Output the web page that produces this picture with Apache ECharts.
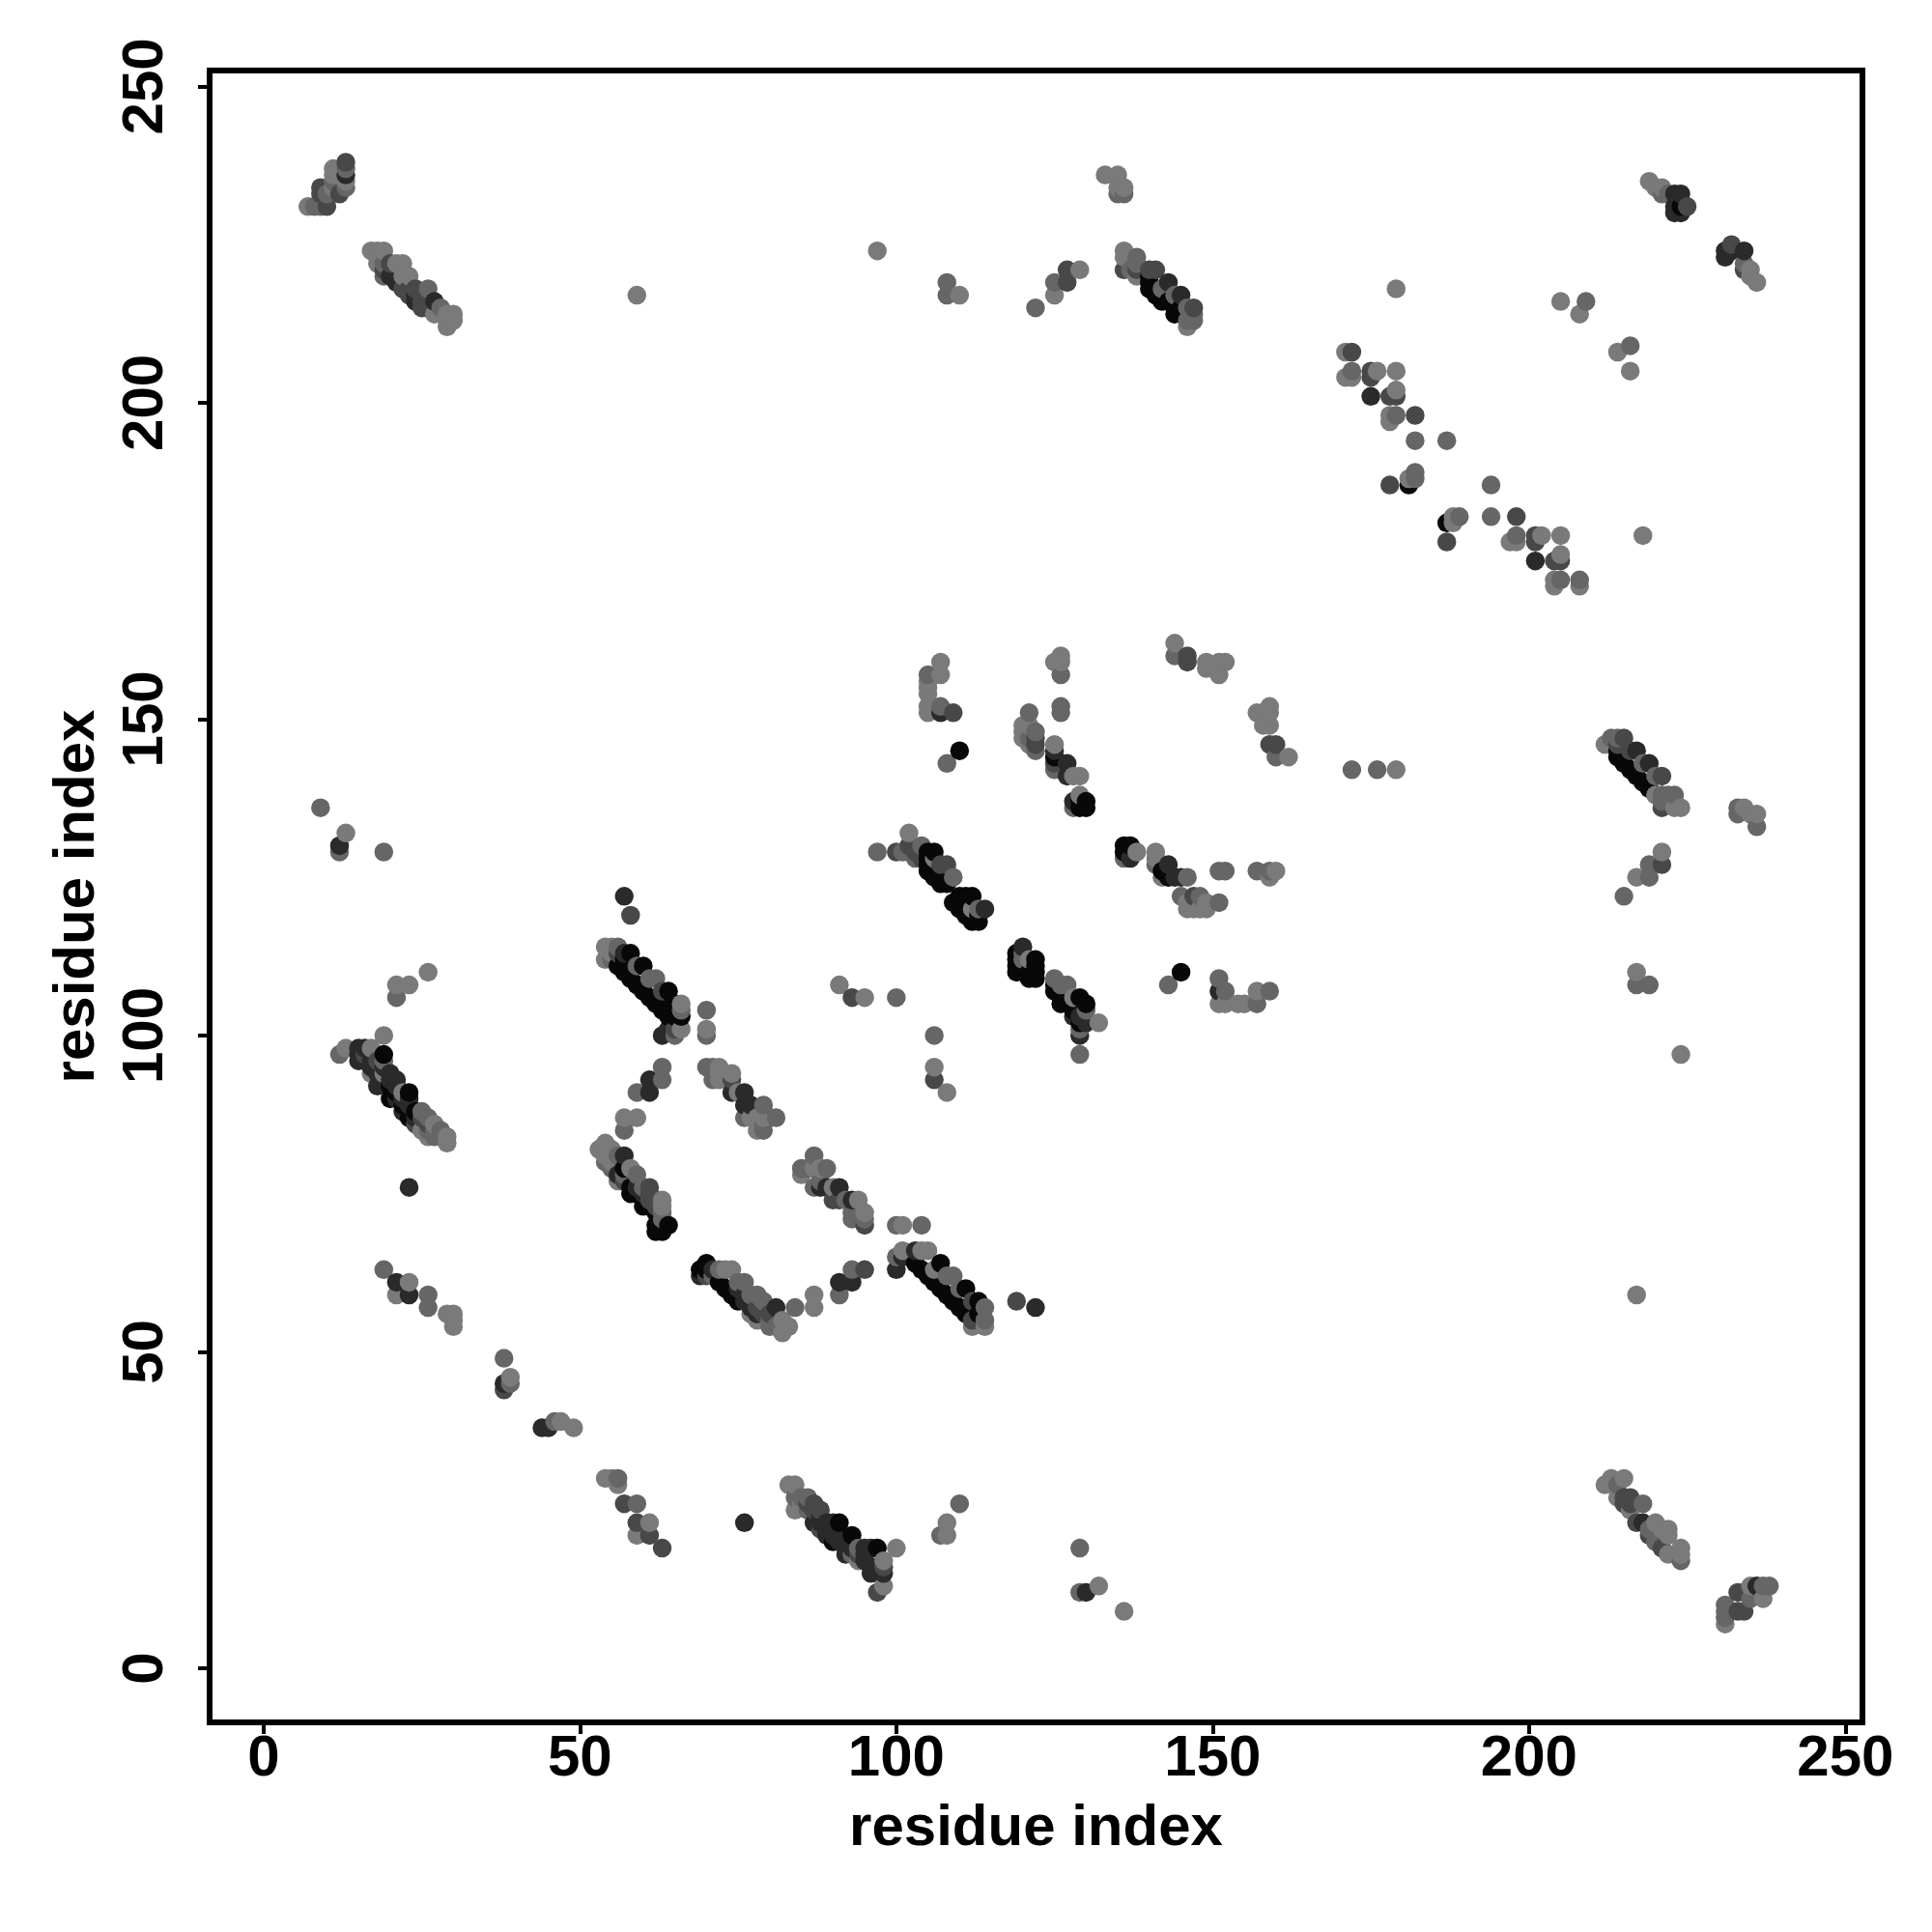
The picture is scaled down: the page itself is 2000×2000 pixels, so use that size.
<!DOCTYPE html>
<html>
<head>
<meta charset="utf-8">
<script src="https://cdn.jsdelivr.net/npm/echarts@6/dist/echarts.min.js"></script>
<style>html,body{margin:0;padding:0;background:#fff}#c{width:2000px;height:2000px}</style>
</head>
<body>
<div id="c"></div>
<script>
// grey shades of the contact dots
const L=122, M=102, D=72, K=42, B=8;
const tickValues=[0,50,100,150,200,250];
const axisTitle='residue index';
// [residue x, residue y, grey]
const topLeftA=[[7,231,L],[8,231,M],[9,231,M],[10,231,D],[9,233,D],[9,234,D],[10,233,M],[11,237,L],[11,236,L],[11,235,M],[11,234,L],[12,233,D],[13,238,D],[13,237,M],[13,236,K],[13,235,L],[13,234,M]];
const topLeftB=[[17,224,L],[18,224,L],[19,224,L],[18,222,L],[19,222,M],[19,221,D],[19,220,M],[20,222,D],[21,222,L],[22,222,L],[20,220,K],[21,219,K],[22,220,L],[23,220,L],[22,218,D],[23,218,D],[23,217,D],[24,218,D],[24,217,K],[24,216,K],[25,217,D],[25,216,D],[25,215,D],[26,218,M],[26,216,D],[27,216,K],[26,215,D],[27,214,L],[29,214,L],[30,214,L],[29,213,L],[30,213,L],[29,212,L],[28,215,M]];
const topIso=[[59,217,L],[97,224,L],[108,219,M],[108,217,M],[110,217,L],[122,215,M],[125,217,L],[125,219,M],[127,219,D],[127,221,D],[129,221,L]];
const topMid=[[133,236,L],[135,236,L],[136,234,L],[136,233,M],[135,233,M],[135,234,L],[136,224,L],[136,223,L],[136,221,D],[137,221,M],[138,223,M],[138,222,M],[138,220,L],[138,221,D],[140,221,D],[141,221,D],[140,220,B],[140,219,B],[140,218,B],[141,217,B],[141,218,B],[142,216,B],[142,218,M],[143,219,K],[143,216,B],[144,217,M],[145,217,K],[144,215,B],[144,214,B],[145,215,B],[146,215,M],[147,215,D],[147,214,M],[146,212,L],[146,213,M],[147,213,M]];
const topRight=[[219,235,L],[220,234,L],[221,234,L],[221,233,M],[222,233,M],[223,233,K],[224,233,K],[223,230,K],[224,230,K],[223,231,K],[224,231,B],[225,231,D],[231,224,K],[231,223,K],[232,225,D],[232,224,K],[234,224,K],[234,221,D],[234,222,M],[235,221,L],[235,220,L],[236,219,L]];
const upperRightA=[[179,218,L],[205,216,L],[209,216,M],[208,214,L],[214,208,L],[216,209,M],[216,205,L]];
const upperRightB=[[171,208,L],[172,208,D],[171,204,L],[172,205,M],[172,204,L],[175,204,D],[175,205,D],[176,205,L],[179,205,L],[175,201,K],[178,201,D],[179,201,D],[179,202,L],[178,198,L],[178,197,L],[179,198,M],[182,198,D],[182,194,M],[187,194,M],[178,187,D],[181,187,B],[181,188,L],[182,189,M],[182,188,M],[194,187,M],[187,181,B],[187,178,D],[188,181,L],[188,182,L],[189,182,M],[194,182,M],[198,182,D],[197,178,L],[198,179,M],[198,178,L],[201,179,D],[201,178,D],[202,179,L],[205,179,L],[201,175,K],[204,175,D],[205,175,D],[205,176,L],[204,172,L],[204,171,L],[205,172,M],[208,172,M],[208,171,L],[218,179,L]];
const rightBand=[[172,142,M],[176,142,M],[179,142,L],[212,146,L],[213,147,M],[214,147,M],[215,147,D],[214,146,D],[214,145,B],[214,144,B],[215,143,B],[216,145,D],[216,142,B],[217,145,K],[217,141,B],[218,140,B],[218,143,M],[219,143,K],[219,139,B],[220,141,M],[220,138,L],[221,141,D],[221,138,M],[221,137,M],[221,136,D],[222,138,M],[223,138,M],[223,136,L],[224,136,L],[233,136,M],[233,135,M],[234,136,L],[236,135,L],[236,133,M],[235,135,L],[221,129,L],[221,127,D],[219,127,M],[219,125,M],[217,125,L],[215,122,M],[217,110,L],[217,108,M],[219,108,M],[224,97,L]];
const midLeft=[[107,159,L],[107,157,L],[105,157,M],[105,156,L],[105,155,L],[105,154,L],[105,152,L],[105,151,L],[107,152,M],[107,151,K],[109,151,D],[110,145,B],[108,143,M]];
const midCentre=[[126,160,L],[125,159,L],[126,159,L],[126,157,M],[126,152,M],[126,151,M],[121,151,M],[120,149,L],[120,148,L],[120,147,L],[121,149,L],[121,147,M],[121,146,L],[122,148,M],[122,147,D],[122,146,D],[122,145,M],[125,146,L],[125,145,K],[125,144,B],[125,143,D],[125,142,M],[127,143,K],[127,141,K],[128,141,L],[129,141,L],[129,138,L],[128,137,K],[128,136,M],[129,136,B],[129,137,B],[130,137,B],[130,136,B]];
const midRight=[[144,162,L],[144,160,M],[146,160,D],[146,159,D],[149,159,L],[149,158,L],[151,159,L],[152,159,L],[151,157,L],[159,152,L],[157,151,L],[159,151,L],[158,149,L],[159,149,L],[159,146,D],[160,146,D],[160,144,M],[162,144,L]];
const band129=[[97,129,M],[100,129,D],[101,129,M],[102,132,L],[102,130,D],[102,129,M],[103,129,D],[103,128,M],[104,130,M],[104,128,D],[105,129,B],[105,128,B],[105,127,B],[105,126,B],[106,129,B],[106,128,L],[106,125,B],[107,127,D],[107,125,B],[107,124,B],[108,127,D],[108,124,B],[109,125,M],[109,121,B],[110,122,B],[110,120,B],[111,122,B],[111,119,B],[112,122,B],[112,118,B],[112,119,B],[112,120,L],[113,120,M],[113,118,B],[113,119,B],[114,120,K]];
const band110=[[120,114,K],[119,113,B],[119,112,B],[119,111,B],[119,110,B],[120,113,M],[120,112,M],[120,111,B],[120,110,B],[121,109,B],[121,110,B],[121,112,L],[122,112,B],[122,111,B],[122,110,B],[122,109,B],[125,109,M],[125,108,B],[125,107,B],[126,108,M],[126,106,B],[126,105,B],[127,108,M],[127,105,B],[128,106,L],[128,104,B],[128,103,K],[129,106,B],[129,103,K],[129,102,B],[129,101,M],[129,100,K],[130,105,B],[130,104,M],[130,102,K],[132,102,L],[129,97,M]];
const band128=[[136,130,B],[137,130,B],[136,128,M],[136,129,B],[137,128,K],[138,129,L],[141,129,L],[141,128,L],[141,127,M],[142,125,L],[142,126,B],[143,127,K],[143,125,B],[144,125,K],[145,125,K],[146,125,M],[151,126,M],[152,126,M],[157,126,M],[159,125,L],[159,126,M],[160,126,L],[145,122,M],[146,121,L],[146,120,L],[147,122,D],[147,120,L],[148,122,M],[148,120,L],[149,121,L],[149,120,L],[151,121,M],[145,110,B],[143,108,M],[151,109,M],[151,107,K],[152,107,M],[151,105,L],[152,105,L],[154,105,L],[155,105,L],[157,105,M],[157,107,L],[159,107,M]];
const midIso=[[91,108,L],[93,106,D],[95,106,L],[100,106,M],[106,100,M],[106,95,L],[106,93,D],[108,91,L]];
const band112=[[57,122,K],[58,119,D],[54,114,L],[55,114,L],[56,114,M],[54,112,L],[55,112,M],[55,113,L],[56,113,D],[56,111,B],[57,113,K],[57,112,B],[57,110,B],[58,113,B],[58,110,B],[58,109,B],[59,111,M],[59,108,B],[60,111,B],[60,108,B],[60,107,B],[61,109,M],[61,106,B],[62,109,M],[62,106,B],[62,105,B],[63,107,D],[63,105,B],[63,104,B],[64,107,B],[64,104,B],[64,103,B],[65,105,B],[65,103,B],[65,101,D],[65,100,M],[66,105,L],[66,104,M],[66,103,B],[66,101,L],[63,100,K],[64,101,K],[70,104,M],[70,101,L],[70,100,M]];
const band90=[[63,95,M],[63,93,M],[61,93,K],[61,91,K],[59,91,M],[57,87,L],[59,87,L],[57,85,M]];
const band94=[[70,95,M],[71,95,M],[72,95,L],[71,93,M],[72,94,L],[72,93,L],[74,94,L],[74,93,D],[74,91,K],[75,91,L],[76,91,K],[76,89,K],[77,89,K],[76,87,M],[77,87,L],[79,89,M],[79,88,L],[79,87,L],[78,87,L],[81,87,M],[78,85,L],[79,85,M],[79,86,M]];
const band80=[[53,82,L],[54,83,L],[54,81,L],[55,82,L],[54,80,M],[55,79,M],[55,80,L],[56,81,M],[56,78,K],[56,77,L],[57,81,K],[57,79,B],[57,78,M],[57,77,D],[58,79,L],[58,76,B],[58,75,B],[59,78,M],[59,76,K],[59,75,B],[60,76,M],[60,75,K],[60,73,B],[60,74,B],[61,76,D],[61,75,D],[61,74,D],[61,73,B],[62,74,D],[62,73,D],[62,72,B],[62,70,B],[62,69,B],[63,74,L],[63,73,L],[63,72,M],[63,71,M],[63,69,B],[64,70,B]];
const band78=[[87,81,M],[85,79,M],[85,78,L],[86,79,M],[87,79,L],[88,79,L],[89,79,M],[87,76,M],[88,77,M],[88,76,K],[89,76,K],[90,76,L],[91,76,K],[90,74,D],[91,74,D],[92,74,M],[93,74,K],[94,74,L],[93,71,M],[93,72,M],[95,72,L],[95,71,M],[95,70,D],[100,70,M],[101,70,L],[104,70,M]];
const band62=[[69,63,B],[69,62,K],[70,64,B],[70,63,B],[70,62,D],[71,63,K],[71,62,M],[72,63,M],[73,63,L],[74,63,L],[72,61,B],[73,60,B],[74,60,B],[74,59,B],[75,61,M],[75,60,K],[75,58,B],[76,61,M],[76,59,K],[76,58,K],[77,59,M],[77,58,K],[77,57,K],[77,56,L],[78,59,M],[78,57,D],[78,56,K],[78,55,L],[79,58,M],[79,57,D],[79,56,D],[80,56,D],[80,54,M],[80,55,M],[81,57,K],[81,54,M],[82,55,L],[82,53,L],[83,54,L],[84,57,M],[87,59,L],[87,57,L],[91,61,K],[91,59,M],[93,61,K],[93,63,M],[95,63,D]];
const band65=[[100,63,K],[100,65,M],[101,65,K],[101,66,L],[103,66,K],[103,64,B],[104,66,L],[104,63,B],[105,66,L],[105,62,B],[106,63,L],[106,61,B],[107,64,B],[107,60,B],[108,62,M],[108,59,B],[109,62,M],[109,58,B],[110,57,B],[110,60,M],[111,60,B],[111,56,B],[112,58,D],[112,55,D],[112,54,L],[113,58,B],[113,56,B],[114,57,M],[114,55,M],[114,54,L],[119,58,D],[122,57,K]];
const leftTopLow=[[9,136,M],[13,132,L],[12,130,K],[12,129,M],[19,129,M],[26,110,L],[21,108,L],[23,108,L],[21,106,M]];
const band97=[[19,100,L],[12,97,M],[13,98,L],[15,98,K],[16,98,K],[15,97,K],[15,96,K],[16,97,D],[16,96,K],[17,98,L],[17,96,K],[17,95,K],[18,96,D],[18,95,K],[17,94,L],[18,94,K],[18,92,K],[19,97,B],[19,96,M],[19,95,K],[19,94,L],[19,93,K],[20,94,K],[20,93,K],[20,92,B],[20,90,B],[21,93,K],[21,92,K],[21,91,B],[21,90,K],[22,91,L],[22,90,K],[22,89,B],[22,88,K],[23,91,B],[23,90,K],[23,89,K],[23,87,B],[24,88,B],[24,87,K],[24,86,D],[25,88,M],[25,87,D],[25,85,L],[26,87,M],[26,86,D],[26,85,M],[26,84,L],[27,86,L],[27,85,M],[27,84,M],[28,85,M],[29,84,L],[29,83,L],[23,76,K]];
const lowLeft=[[19,63,M],[21,61,K],[23,61,L],[21,59,L],[23,59,K],[26,59,M],[26,57,M],[29,56,L],[30,56,L],[30,55,L],[30,54,L],[38,49,M],[38,45,K],[38,44,D],[39,46,L],[39,45,M],[44,38,K],[45,38,K],[46,39,M],[47,39,L],[49,38,L],[54,30,L],[55,30,L],[56,30,M],[56,29,L],[57,26,D],[59,26,M],[59,23,D],[59,21,L],[61,23,L],[61,21,D],[63,19,D],[76,23,K]];
const band28=[[83,29,L],[84,29,L],[85,26,L],[84,27,M],[85,27,M],[86,27,M],[84,25,L],[86,26,D],[86,25,M],[87,26,D],[87,25,D],[88,25,D],[87,23,K],[88,24,K],[88,23,K],[88,22,D],[89,23,K],[89,22,K],[89,21,K],[90,23,K],[91,23,B],[90,20,B],[90,21,K],[91,21,K],[91,20,K],[92,20,K],[92,19,K],[92,18,K],[93,21,B],[93,19,K],[93,18,M],[94,19,M],[94,18,D],[94,17,L],[95,19,K],[95,18,K],[95,17,K],[96,19,K],[96,16,K],[96,15,K],[97,19,B],[97,16,K],[97,12,D],[98,17,L],[98,16,D],[98,15,K],[98,13,L],[100,19,L],[107,21,M],[108,21,L],[108,23,L],[110,26,M],[129,19,M],[129,12,M],[130,12,K],[132,13,L],[136,9,L]];
const lowRight=[[217,59,L],[212,29,L],[213,30,L],[214,29,M],[215,30,L],[214,27,L],[215,27,D],[216,27,D],[215,26,D],[216,26,D],[218,26,M],[217,23,D],[216,25,L],[218,23,K],[219,21,D],[220,23,L],[219,22,M],[221,22,L],[222,22,L],[220,20,M],[221,19,D],[222,18,L],[222,21,L],[224,19,L],[224,18,L],[224,17,M],[231,10,M],[231,9,M],[231,8,M],[231,7,L],[233,12,D],[233,9,D],[234,9,D],[234,12,D],[235,13,L],[236,13,K],[235,11,M],[237,11,L],[237,13,M],[238,13,M]];

const groups=[topLeftA,topLeftB,topIso,topMid,topRight,upperRightA,upperRightB,rightBand,midLeft,midCentre,midRight,band129,band110,band128,midIso,band112,band90,band94,band80,band78,band62,band65,leftTopLow,band97,lowLeft,band28,lowRight];
const points=[].concat(...groups).sort((a,b)=>a[0]-b[0]||a[1]-b[1]);
const grey=g=>`rgb(${g},${g},${g})`;
const font='"Liberation Sans"';
const axisCommon={
  type:'value',
  nameLocation:'middle',
  nameMoveOverlap:false,
  nameTextStyle:{fontFamily:font,fontWeight:'bold',fontSize:60,color:'#000'},
  axisLine:{show:false,onZero:false},
  splitLine:{show:false},
  axisTick:{show:true,length:12,lineStyle:{color:'#000',width:4},customValues:tickValues},
};
const chart=echarts.init(document.getElementById('c'),null,{renderer:'canvas'});
chart.setOption({
  animation:false,
  backgroundColor:'#fff',
  grid:{left:217,top:73,width:1711,height:1710,show:true,borderColor:'#000',borderWidth:6,backgroundColor:'#fff',containLabel:false},
  xAxis:Object.assign({},axisCommon,{
    name:axisTitle,nameGap:80,min:-8.53,max:252.7,
    axisLabel:{customValues:tickValues,fontFamily:font,fontWeight:'bold',fontSize:60,color:'#000',margin:8,hideOverlap:false}
  }),
  yAxis:Object.assign({},axisCommon,{
    name:axisTitle,nameGap:107,min:-8.55,max:252.5,
    axisLabel:{customValues:tickValues,fontFamily:font,fontWeight:'bold',fontSize:60,color:'#000',rotate:90,margin:36,hideOverlap:false,align:'center',verticalAlign:'bottom'}
  }),
  series:[{
    type:'scatter',
    symbol:'circle',
    symbolSize:19.5,
    large:false,
    silent:true,
    data:points.map(p=>({value:[p[0],p[1]],itemStyle:{color:grey(p[2]),opacity:1}}))
  }]
});
</script>
</body>
</html>
